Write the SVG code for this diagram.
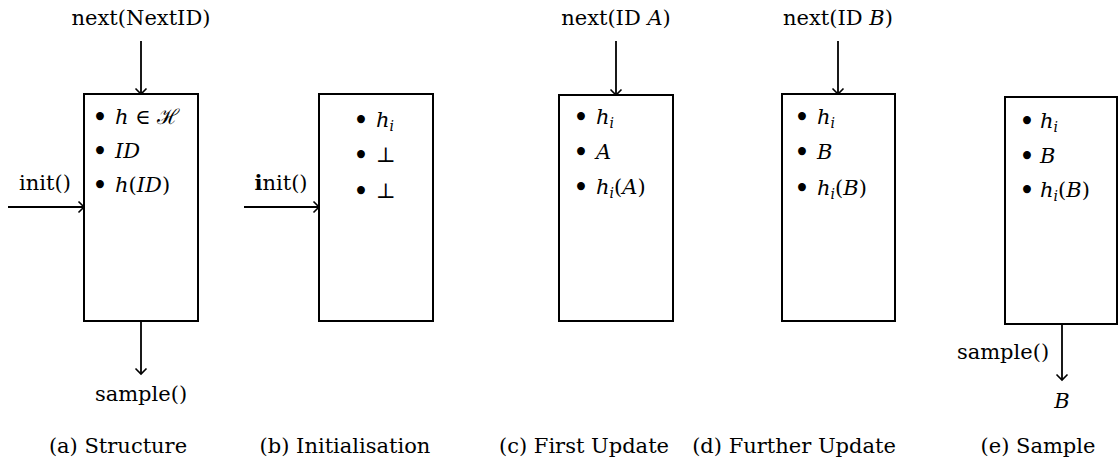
<svg xmlns="http://www.w3.org/2000/svg" width="1118" height="464" viewBox="0 0 1118 464">
<style>
text{font-family:"DejaVu Serif",serif;font-size:21px;fill:#000}
.m{font-style:italic}
.box{fill:#fff;stroke:#000;stroke-width:2}
.arr{stroke:#000;stroke-width:1.8;fill:none;marker-end:url(#ah)}
.c{text-anchor:middle}
.b{text-anchor:middle;font-size:27px}
.sub{font-size:14px}
</style>
<defs>
<marker id="ah" markerUnits="userSpaceOnUse" markerWidth="14" markerHeight="14" viewBox="-7 -7 14 14" refX="0" refY="0" orient="auto">
<path d="M-5.5,-5.5 Q-1.5,-1.5 0,0 Q-1.5,1.5 -5.5,5.5" fill="none" stroke="#000" stroke-width="1.6"/>
</marker>
</defs>
<g id="connectors">
<line class="arr" x1="141" y1="41" x2="141" y2="94"/>
<line class="arr" x1="8" y1="207" x2="84" y2="207"/>
<line class="arr" x1="141" y1="321" x2="141" y2="374"/>
<line class="arr" x1="244" y1="207" x2="319" y2="207"/>
<line class="arr" x1="616" y1="41" x2="616" y2="95"/>
<line class="arr" x1="838" y1="41" x2="838" y2="94"/>
<line class="arr" x1="1062" y1="324" x2="1062" y2="380"/>
</g>
<g id="a">
<rect class="box" x="84" y="94" width="114" height="227"/>
<text x="141" y="25" class="c">next(NextID)</text>
<text x="45" y="190" class="c">init()</text>
<text x="141" y="401" class="c">sample()</text>
<text x="100" y="127" class="b">•</text><text x="115" y="124"><tspan class="m">h</tspan> ∈ ℋ</text>
<text x="100" y="161" class="b">•</text><text x="115" y="158" class="m">ID</text>
<text x="100" y="195" class="b">•</text><text x="115" y="192"><tspan class="m">h</tspan>(<tspan class="m">ID</tspan>)</text>
<text x="118" y="453" class="c">(a)  Structure</text>
</g>
<g id="b">
<rect class="box" x="319" y="94" width="114" height="227"/>
<text x="281" y="190" class="c"><tspan font-weight="bold">i</tspan>nit()</text>
<text x="361" y="130" class="b">•</text><text x="376" y="127"><tspan class="m">h</tspan><tspan class="m sub" dy="4">i</tspan></text>
<text x="361" y="165" class="b">•</text><text x="376" y="162">⊥</text>
<text x="361" y="201" class="b">•</text><text x="376" y="198">⊥</text>
<text x="345" y="453" class="c">(b)  Initialisation</text>
</g>
<g id="c">
<rect class="box" x="559" y="95" width="114" height="226"/>
<text x="616" y="25" class="c">next(ID <tspan class="m">A</tspan>)</text>
<text x="581" y="127" class="b">•</text><text x="596" y="124"><tspan class="m">h</tspan><tspan class="m sub" dy="4">i</tspan></text>
<text x="581" y="162" class="b">•</text><text x="596" y="159" class="m">A</text>
<text x="581" y="197" class="b">•</text><text x="596" y="194"><tspan class="m">h</tspan><tspan class="m sub" dy="4">i</tspan><tspan dy="-4">(</tspan><tspan class="m">A</tspan>)</text>
<text x="584" y="453" class="c">(c)  First Update</text>
</g>
<g id="d">
<rect class="box" x="782" y="94" width="113" height="227"/>
<text x="838" y="25" class="c">next(ID <tspan class="m">B</tspan>)</text>
<text x="802" y="127" class="b">•</text><text x="817" y="124"><tspan class="m">h</tspan><tspan class="m sub" dy="4">i</tspan></text>
<text x="802" y="162" class="b">•</text><text x="817" y="159" class="m">B</text>
<text x="802" y="198" class="b">•</text><text x="817" y="195"><tspan class="m">h</tspan><tspan class="m sub" dy="4">i</tspan><tspan dy="-4">(</tspan><tspan class="m">B</tspan>)</text>
<text x="794" y="453" class="c">(d)  Further Update</text>
</g>
<g id="e">
<rect class="box" x="1005" y="97" width="112" height="227"/>
<text x="1027" y="131" class="b">•</text><text x="1040" y="128"><tspan class="m">h</tspan><tspan class="m sub" dy="4">i</tspan></text>
<text x="1027" y="166" class="b">•</text><text x="1040" y="163" class="m">B</text>
<text x="1027" y="200" class="b">•</text><text x="1040" y="197"><tspan class="m">h</tspan><tspan class="m sub" dy="4">i</tspan><tspan dy="-4">(</tspan><tspan class="m">B</tspan>)</text>
<text x="1003" y="359" class="c">sample()</text>
<text x="1062" y="408" class="c m">B</text>
<text x="1038" y="453" class="c">(e)  Sample</text>
</g>
</svg>
